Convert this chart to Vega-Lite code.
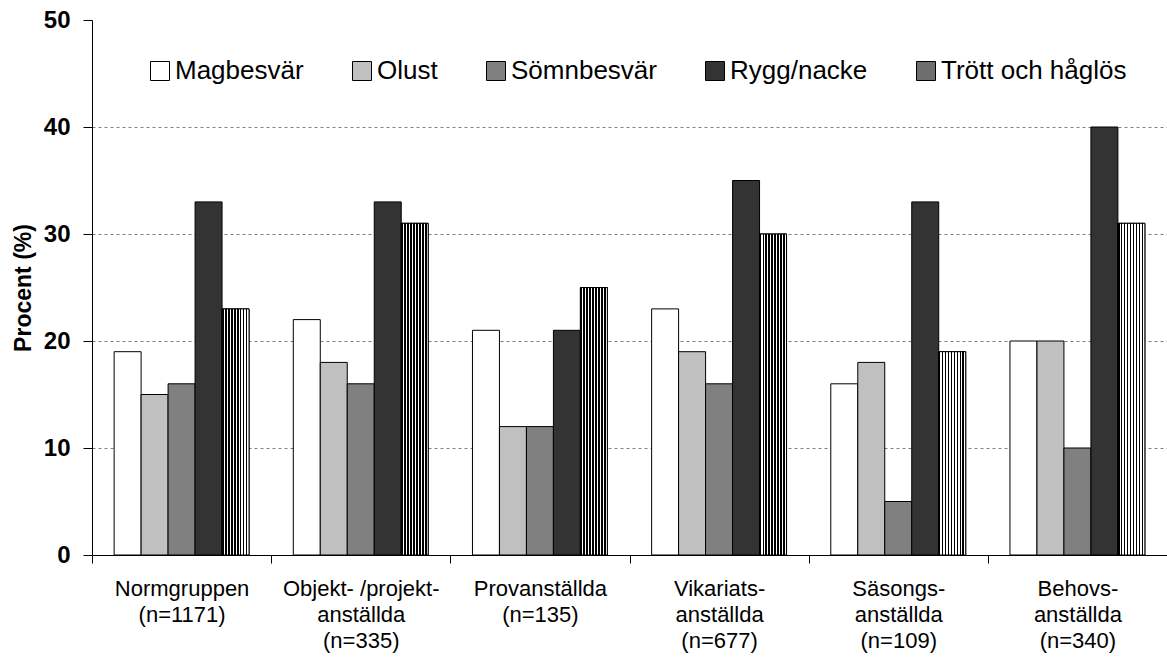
{
  "$schema": "https://vega.github.io/schema/vega-lite/v6.json",
  "autosize": {"type": "none"},
  "padding": {"left": 92, "top": 20, "right": 0, "bottom": 105},
  "width": 1075,
  "height": 535,
  "background": "white",
  "config": {
    "font": "Liberation Sans",
    "view": {"stroke": null}
  },
  "data": {
    "values": [
      {"grupp": "Normgruppen|(n=1171)", "besvar": "Magbesvär", "procent": 19},
      {"grupp": "Normgruppen|(n=1171)", "besvar": "Olust", "procent": 15},
      {"grupp": "Normgruppen|(n=1171)", "besvar": "Sömnbesvär", "procent": 16},
      {"grupp": "Normgruppen|(n=1171)", "besvar": "Rygg/nacke", "procent": 33},
      {"grupp": "Normgruppen|(n=1171)", "besvar": "Trött och håglös", "procent": 23},
      {"grupp": "Objekt- /projekt-|anställda|(n=335)", "besvar": "Magbesvär", "procent": 22},
      {"grupp": "Objekt- /projekt-|anställda|(n=335)", "besvar": "Olust", "procent": 18},
      {"grupp": "Objekt- /projekt-|anställda|(n=335)", "besvar": "Sömnbesvär", "procent": 16},
      {"grupp": "Objekt- /projekt-|anställda|(n=335)", "besvar": "Rygg/nacke", "procent": 33},
      {"grupp": "Objekt- /projekt-|anställda|(n=335)", "besvar": "Trött och håglös", "procent": 31},
      {"grupp": "Provanställda|(n=135)", "besvar": "Magbesvär", "procent": 21},
      {"grupp": "Provanställda|(n=135)", "besvar": "Olust", "procent": 12},
      {"grupp": "Provanställda|(n=135)", "besvar": "Sömnbesvär", "procent": 12},
      {"grupp": "Provanställda|(n=135)", "besvar": "Rygg/nacke", "procent": 21},
      {"grupp": "Provanställda|(n=135)", "besvar": "Trött och håglös", "procent": 25},
      {"grupp": "Vikariats-|anställda|(n=677)", "besvar": "Magbesvär", "procent": 23},
      {"grupp": "Vikariats-|anställda|(n=677)", "besvar": "Olust", "procent": 19},
      {"grupp": "Vikariats-|anställda|(n=677)", "besvar": "Sömnbesvär", "procent": 16},
      {"grupp": "Vikariats-|anställda|(n=677)", "besvar": "Rygg/nacke", "procent": 35},
      {"grupp": "Vikariats-|anställda|(n=677)", "besvar": "Trött och håglös", "procent": 30},
      {"grupp": "Säsongs-|anställda|(n=109)", "besvar": "Magbesvär", "procent": 16},
      {"grupp": "Säsongs-|anställda|(n=109)", "besvar": "Olust", "procent": 18},
      {"grupp": "Säsongs-|anställda|(n=109)", "besvar": "Sömnbesvär", "procent": 5},
      {"grupp": "Säsongs-|anställda|(n=109)", "besvar": "Rygg/nacke", "procent": 33},
      {"grupp": "Säsongs-|anställda|(n=109)", "besvar": "Trött och håglös", "procent": 19},
      {"grupp": "Behovs-|anställda|(n=340)", "besvar": "Magbesvär", "procent": 20},
      {"grupp": "Behovs-|anställda|(n=340)", "besvar": "Olust", "procent": 20},
      {"grupp": "Behovs-|anställda|(n=340)", "besvar": "Sömnbesvär", "procent": 10},
      {"grupp": "Behovs-|anställda|(n=340)", "besvar": "Rygg/nacke", "procent": 40},
      {"grupp": "Behovs-|anställda|(n=340)", "besvar": "Trött och håglös", "procent": 31}
    ]
  },
  "encoding": {
    "x": {
      "field": "grupp", "type": "nominal", "sort": null,
      "scale": {"paddingInner": 0, "paddingOuter": 0},
      "axis": {
        "title": null, "labelAngle": 0, "labelExpr": "split(datum.label, '|')",
        "labelFontSize": 22, "labelColor": "black", "labelLineHeight": 26,
        "labelPadding": 15, "labelBaseline": "top",
        "tickBand": "extent", "tickSize": 8, "tickColor": "black",
        "domainColor": "black", "grid": false
      }
    },
    "xOffset": {
      "field": "besvar", "type": "nominal",
      "scale": {"domain": ["Magbesvär", "Olust", "Sömnbesvär", "Rygg/nacke", "Trött och håglös"], "paddingInner": 0, "paddingOuter": 0.82}
    },
    "y": {
      "field": "procent", "type": "quantitative",
      "scale": {"domain": [0, 50], "nice": false},
      "axis": {
        "title": "Procent (%)", "titleFontSize": 23, "titleFontWeight": "bold", "titleColor": "black", "titlePadding": 8,
        "values": [0, 10, 20, 30, 40, 50],
        "labelFontSize": 24, "labelFontWeight": "bold", "labelColor": "black", "labelPadding": 13,
        "tickSize": 9, "tickColor": "black", "domainColor": "black",
        "grid": true, "gridColor": "#808080", "gridDash": [3, 3],
        "gridOpacity": {"condition": {"test": "datum.value === 50 || datum.value === 0", "value": 0}, "value": 1}
      }
    }
  },
  "layer": [
    {
      "mark": {"type": "bar", "stroke": "black", "strokeWidth": 1},
      "encoding": {
        "color": {
          "field": "besvar", "type": "nominal",
          "scale": {"domain": ["Magbesvär", "Olust", "Sömnbesvär", "Rygg/nacke", "Trött och håglös"], "range": ["#ffffff", "#c0c0c0", "#808080", "#333333", "#6e6e6e"]},
          "legend": {
            "title": null, "orient": "none", "direction": "horizontal", "columns": 5,
            "legendX": 55, "legendY": 38,
            "symbolType": "square", "symbolSize": 361, "symbolStrokeColor": "black", "symbolStrokeWidth": 1,
            "symbolOpacity": 1, "labelLimit": 400,
            "labelFontSize": 26, "labelColor": "black", "labelOffset": 2, "columnPadding": 45
          }
        }
      }
    },
    {
      "transform": [{"filter": "datum.besvar === 'Trött och håglös'"}],
      "mark": {
        "type": "bar", "stroke": "black", "strokeWidth": 1,
        "fill": {"gradient": "linear", "x1": 0, "y1": 0, "x2": 1, "y2": 0, "stops": [
          {"offset": 0, "color": "black"}, {"offset": 0.06, "color": "black"}, {"offset": 0.06, "color": "white"}, {"offset": 0.11, "color": "white"},
          {"offset": 0.11, "color": "black"}, {"offset": 0.17, "color": "black"}, {"offset": 0.17, "color": "white"}, {"offset": 0.22, "color": "white"},
          {"offset": 0.22, "color": "black"}, {"offset": 0.28, "color": "black"}, {"offset": 0.28, "color": "white"}, {"offset": 0.33, "color": "white"},
          {"offset": 0.33, "color": "black"}, {"offset": 0.39, "color": "black"}, {"offset": 0.39, "color": "white"}, {"offset": 0.44, "color": "white"},
          {"offset": 0.44, "color": "black"}, {"offset": 0.5, "color": "black"}, {"offset": 0.5, "color": "white"}, {"offset": 0.55, "color": "white"},
          {"offset": 0.55, "color": "black"}, {"offset": 0.61, "color": "black"}, {"offset": 0.61, "color": "white"}, {"offset": 0.66, "color": "white"},
          {"offset": 0.66, "color": "black"}, {"offset": 0.72, "color": "black"}, {"offset": 0.72, "color": "white"}, {"offset": 0.77, "color": "white"},
          {"offset": 0.77, "color": "black"}, {"offset": 0.83, "color": "black"}, {"offset": 0.83, "color": "white"}, {"offset": 0.88, "color": "white"},
          {"offset": 0.88, "color": "black"}, {"offset": 0.94, "color": "black"}, {"offset": 0.94, "color": "white"}, {"offset": 1, "color": "white"}
        ]}
      }
    }
  ]
}
